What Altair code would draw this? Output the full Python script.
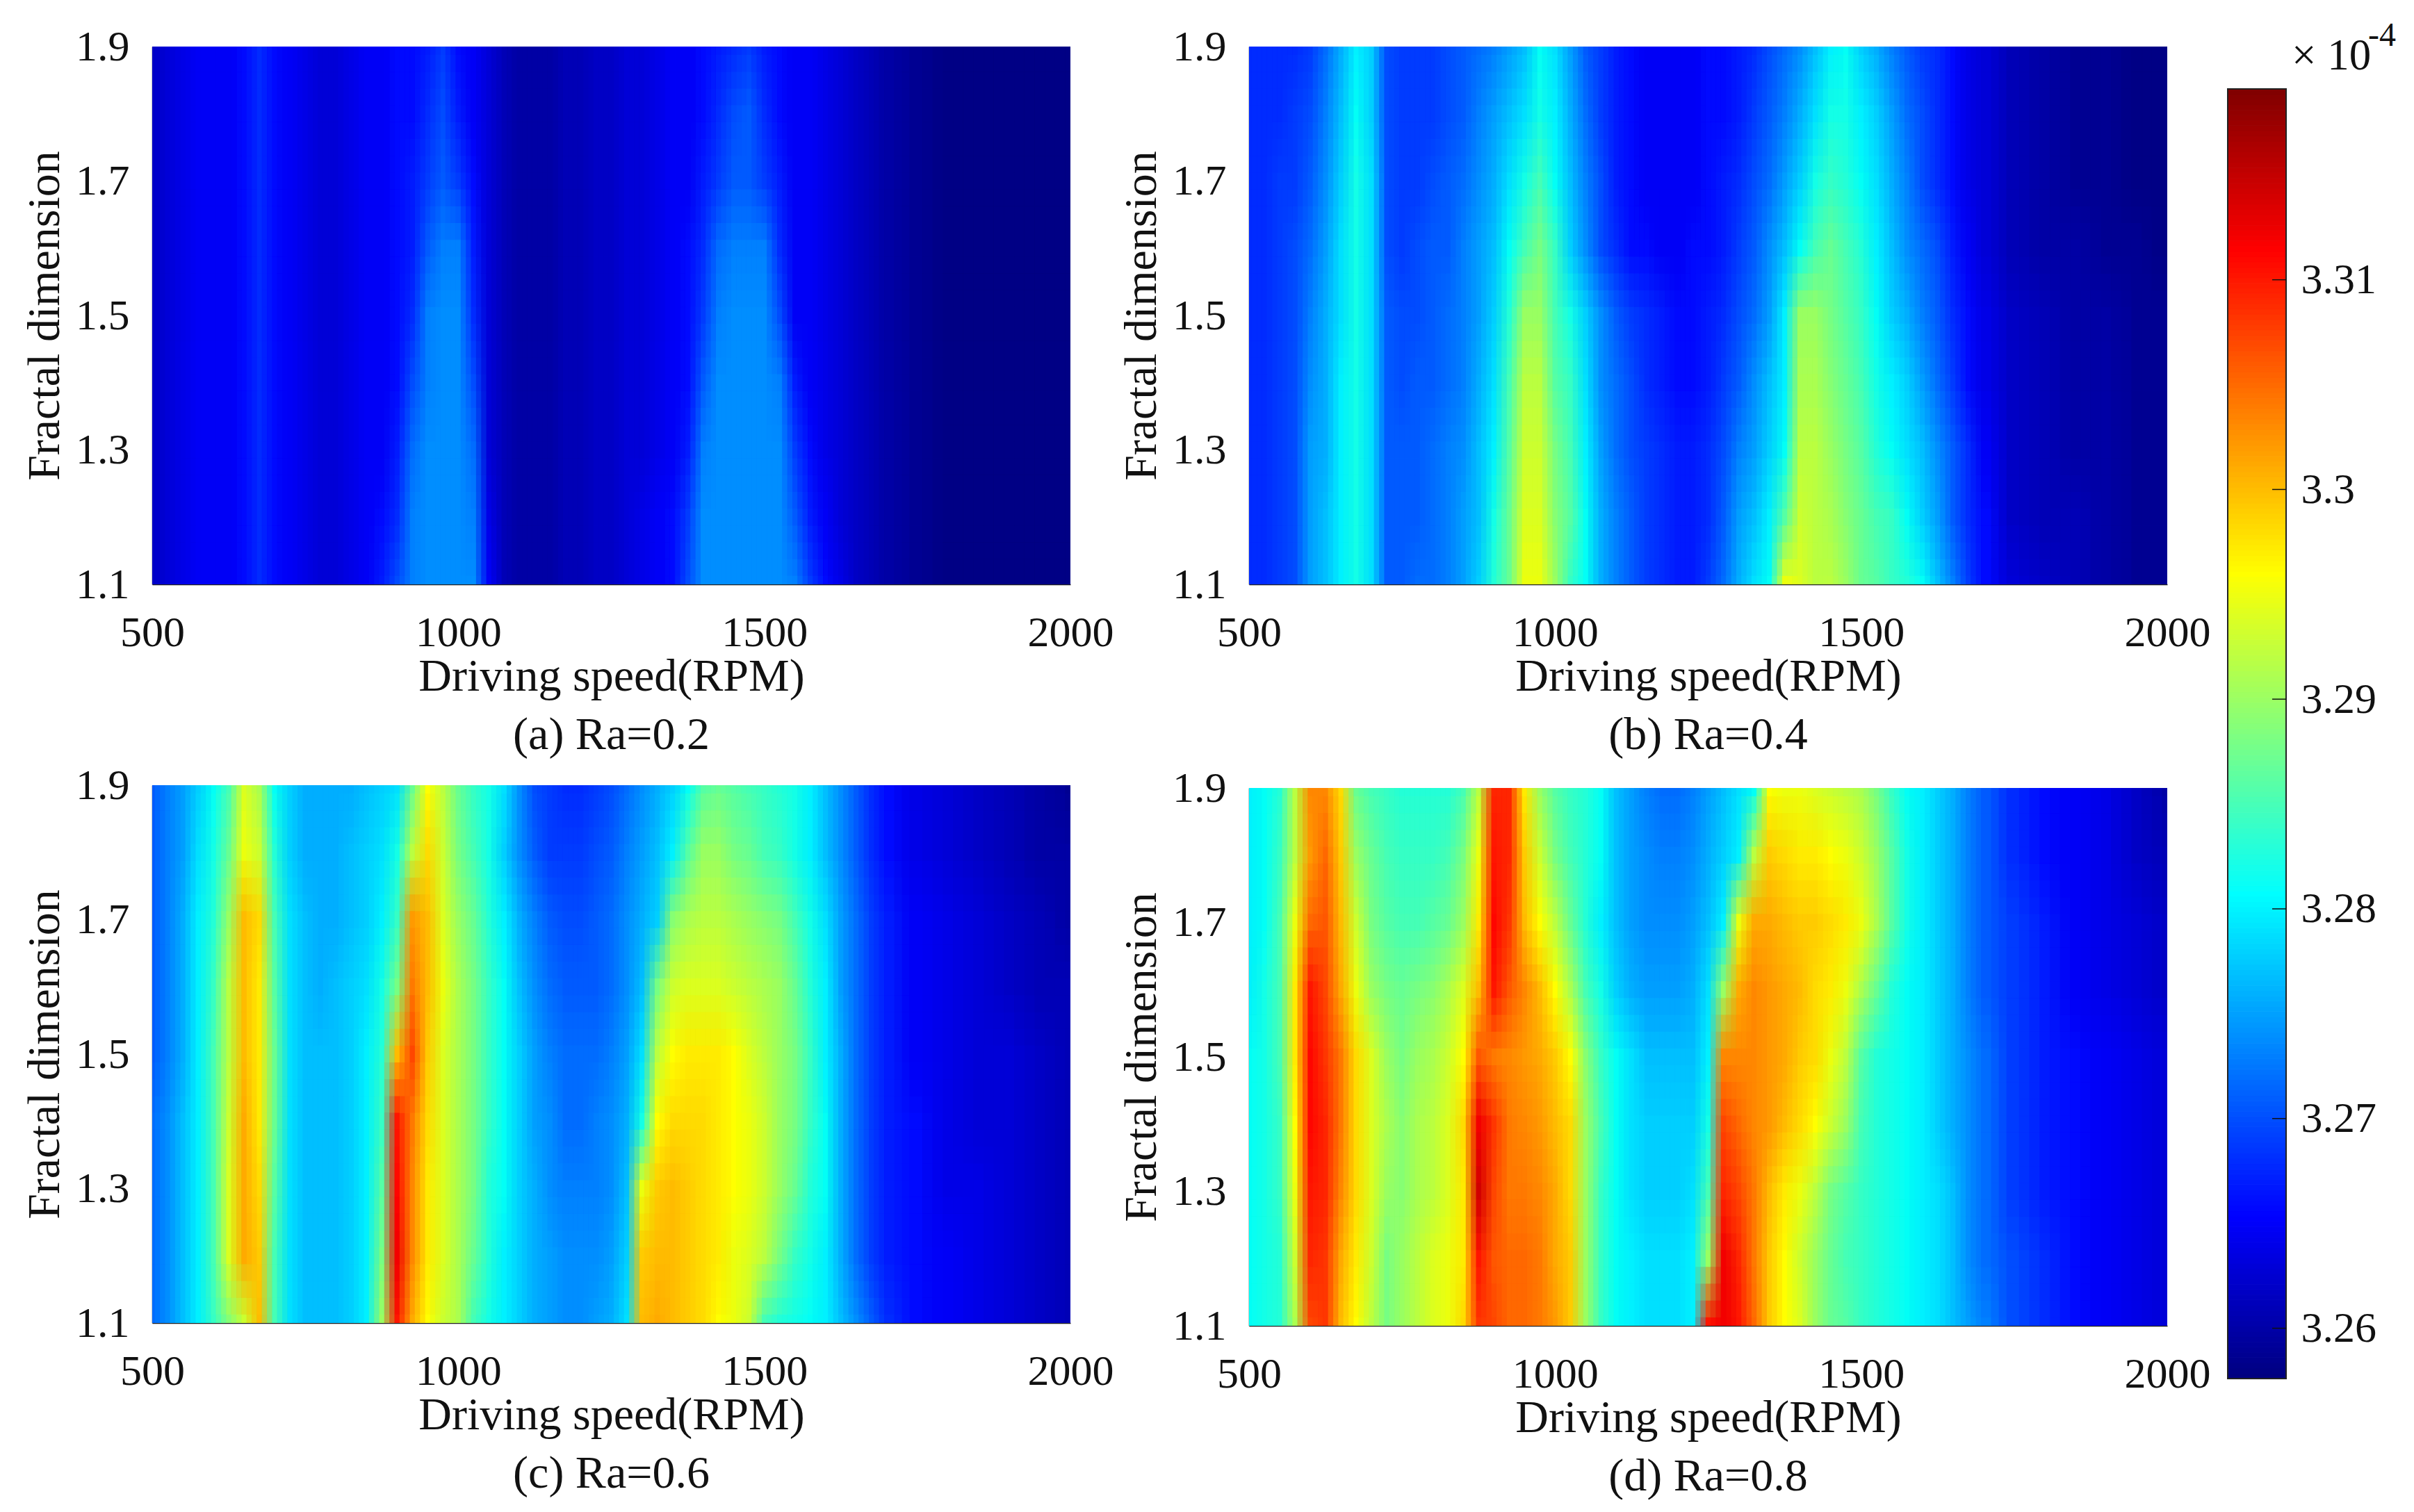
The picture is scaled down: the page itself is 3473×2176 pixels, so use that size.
import altair as alt
import numpy as np
import pandas as pd

speeds = [500,525,550,575,600,625,650,675,700,
          725,750,775,800,825,850,875,
          900,925,950,975,1000,1025,
          1050,1075,1100,1125,1150,1175,1200,1225,1250,1275,
          1300,1325,1350,1375,1400,1425,
          1450,1475,1500,1525,1550,1575,
          1600,1625,1650,1675,1700,
          1750,1800,1850,1900,1950,2000]
fractal = [1.9,1.8,1.7,1.6,1.5,1.4,1.3,1.2,1.1]

# values: thousandths above 3.2 (in units of 1e-4 on the colour bar)
ra_02 = [
 [62,63,64,65,65,65,66,68,66, 65,64,63,63,64,65,65, 66,66,67,69,66,65, 63,61,60,60,60,61,61,62,62,63, 63,64,65,65,66,67, 68,69,67,66,65,65, 64,63,62,61,60, 59,58,58,58,58,58],
 [62,63,64,65,65,65,66,68,66, 65,64,63,63,64,65,65, 66,66,68,70,67,65, 63,61,60,60,60,61,61,62,62,63, 63,64,65,65,66,68, 70,71,68,66,65,65, 64,63,62,61,60, 59,58,58,58,58,58],
 [62,63,64,65,65,65,66,68,66, 65,64,63,63,64,65,65, 66,67,69,71,69,66, 63,61,60,60,60,61,61,62,62,63, 63,64,65,65,67,69, 71,71,69,67,65,65, 64,63,62,61,60, 59,58,58,58,58,58],
 [62,63,64,65,65,65,66,68,66, 65,64,63,63,64,65,65, 66,67,71,73,73,67, 63,61,60,60,60,61,61,62,62,63, 63,64,65,66,68,72, 73,73,73,68,65,65, 64,63,62,61,60, 59,58,58,58,58,58],
 [62,63,64,65,65,65,66,68,66, 65,64,63,63,64,65,65, 66,68,73,74,74,68, 63,61,60,60,60,61,61,62,62,63, 63,64,65,66,69,73, 74,74,74,70,65,65, 64,63,62,61,60, 59,58,58,58,58,58],
 [62,63,64,65,65,65,66,68,66, 65,64,63,63,64,65,65, 66,70,73,74,74,70, 63,61,60,60,60,61,61,62,62,63, 63,64,65,66,71,74, 74,74,74,73,67,65, 64,63,62,61,60, 59,58,58,58,58,58],
 [62,63,64,65,65,65,66,68,66, 65,64,63,63,64,65,65, 67,72,74,74,74,72, 63,61,60,60,60,61,61,62,62,63, 63,64,65,67,73,74, 74,74,74,74,69,66, 64,63,62,61,60, 59,58,58,58,58,58],
 [62,63,64,65,65,65,66,68,66, 65,64,63,63,64,65,66, 68,73,74,74,74,73, 64,61,60,60,60,61,61,62,62,63, 64,65,66,69,74,74, 74,74,74,74,71,67, 65,63,62,61,60, 59,58,58,58,58,58],
 [62,63,64,65,65,65,66,68,66, 65,64,63,63,64,65,67, 70,73,74,74,74,74, 65,61,60,60,60,61,61,62,62,63, 64,65,66,70,74,74, 74,74,74,74,73,69, 66,64,62,61,60, 59,58,58,58,58,58],
]
ra_04 = [
 [68,68,68,68,69,72,76,80,78, 70,69,69,69,70,71,72, 73,75,77,81,79,75, 71,69,67,66,65,65,65,65,66,66, 67,68,70,72,74,77, 80,81,78,76,73,71, 69,68,66,64,63, 61,60,59,59,58,58],
 [68,68,68,69,70,73,77,81,78, 70,69,69,69,70,71,73, 75,77,79,82,80,76, 72,69,67,66,65,65,65,65,66,66, 67,69,71,73,76,79, 82,82,80,78,75,72, 70,68,66,64,63, 61,60,59,59,58,58],
 [68,68,69,69,71,74,78,82,79, 70,69,69,70,71,72,74, 76,79,82,85,81,77, 73,70,67,66,65,65,65,65,66,67, 68,70,72,75,78,82, 84,83,81,79,76,73, 70,68,66,64,63, 61,60,59,59,58,58],
 [68,68,69,70,72,75,79,82,79, 70,69,70,71,71,73,75, 77,81,85,88,84,78, 74,70,68,66,66,65,65,66,66,67, 69,71,74,77,81,85, 87,85,83,80,77,74, 72,70,67,65,63, 61,60,60,59,59,58],
 [68,68,69,70,73,76,79,82,79, 71,70,70,71,72,73,75, 78,83,90,90,85,82, 78,74,71,69,68,67,66,66,67,68, 70,72,75,80,90,90, 88,86,84,81,78,76, 73,71,68,66,64, 62,61,60,60,59,59],
 [68,68,69,70,74,76,80,82,79, 71,70,71,71,72,73,76, 79,85,92,92,86,84, 79,74,72,70,68,67,66,66,67,69, 71,74,77,80,91,91, 89,87,85,82,80,78, 75,72,69,66,64, 62,61,60,60,59,59],
 [68,68,69,70,75,76,80,82,79, 71,71,71,72,73,74,77, 80,86,93,93,88,85, 80,75,72,70,69,68,67,67,68,70, 73,75,78,81,92,92, 90,88,86,83,81,79, 77,74,71,68,65, 62,61,60,60,59,59],
 [68,68,69,70,75,77,80,82,79, 71,71,71,72,73,75,77, 82,87,94,94,89,86, 81,76,73,71,69,68,67,67,68,71, 75,77,80,86,93,92, 91,89,87,85,84,81, 78,75,71,68,66, 62,61,61,60,59,59],
 [68,68,69,70,75,77,80,82,79, 71,71,72,72,73,75,78, 83,87,95,95,90,84, 81,76,73,71,69,68,67,67,69,72, 76,79,81,95,94,92, 92,90,87,86,84,83, 81,77,73,69,66, 63,62,61,60,59,59],
]
ra_06 = [
 [71,73,75,78,81,85,94,91,81, 78,76,76,76,76,77,78, 79,87,96,92,87,84, 82,79,74,70,69,68,68,69,70,72, 74,76,78,81,86,87, 86,85,84,83,82,80, 77,74,71,68,66, 64,63,62,61,60,59],
 [71,73,75,79,82,87,95,93,83, 78,76,76,76,77,78,79, 82,92,98,93,88,85, 82,78,74,71,69,69,69,70,71,73, 75,77,80,86,90,90, 88,87,85,84,82,80, 77,74,71,68,66, 64,63,62,61,60,60],
 [71,73,76,80,83,90,100,98,85, 79,77,76,76,77,78,80, 84,102,100,94,90,87, 83,80,76,73,71,70,70,71,72,74, 76,78,89,91,92,92, 91,90,89,88,85,82, 79,75,72,69,67, 65,64,63,62,61,60],
 [71,73,76,80,84,92,100,97,86, 79,77,76,77,78,79,82, 88,104,100,95,91,88, 84,81,77,74,72,71,71,71,72,74, 77,88,93,94,94,94, 93,92,91,90,87,83, 80,75,72,69,67, 65,64,63,62,61,61],
 [71,73,76,80,85,92,100,97,87, 79,77,77,77,78,80,83, 100,107,99,94,91,88, 84,81,78,75,73,72,72,72,73,75, 79,92,96,97,97,97, 96,94,92,90,88,84, 80,76,72,69,67, 65,64,63,63,62,61],
 [72,74,77,80,85,93,101,97,87, 79,77,77,77,78,80,84, 110,104,98,94,91,88, 84,81,78,75,74,72,72,73,74,76, 82,96,98,98,98,97, 96,95,93,90,88,84, 81,76,72,69,67, 66,64,63,63,62,61],
 [72,74,77,80,85,94,101,98,86, 79,77,77,77,78,80,86, 111,103,97,94,91,88, 83,81,78,76,74,73,73,73,74,77, 95,99,100,99,98,97, 96,95,93,90,87,83, 81,76,72,69,67, 66,64,64,63,62,61],
 [72,74,77,80,85,94,101,99,85, 79,77,77,77,78,80,88, 112,103,97,94,91,87, 83,80,78,76,75,74,74,74,75,78, 99,100,100,99,98,97, 95,94,92,88,84,82, 80,76,72,69,67, 66,65,64,63,62,61],
 [72,74,77,80,84,89,93,100,85, 79,77,77,77,78,80,90, 110,101,96,93,91,85, 82,80,78,76,75,74,74,75,76,79, 100,101,100,99,98,96, 95,93,85,83,82,81, 80,77,74,71,68, 66,65,64,63,62,61],
]
ra_08 = [
 [80,81,83,92,103,103,98,87,85, 84,83,83,83,83,85,92, 109,109,97,90,86,84, 83,81,77,75,73,72,72,73,75,77, 79,81,96,95,95,94, 93,92,91,88,84,81, 80,78,76,73,71, 68,66,65,64,62,60],
 [80,81,84,92,102,105,99,90,87, 85,84,84,84,85,88,95, 110,109,99,93,88,85, 83,81,77,75,74,73,73,74,76,78, 80,92,99,98,97,97, 96,95,93,90,86,82, 80,78,76,73,71, 68,66,65,64,62,61],
 [80,81,85,95,105,106,100,93,88, 86,85,85,86,87,90,97, 111,108,100,96,92,87, 83,80,77,75,74,74,74,75,77,80, 95,101,101,100,99,99, 98,97,95,91,86,82, 80,78,76,73,71, 69,67,65,64,63,62],
 [80,82,85,97,110,107,101,95,90, 88,87,88,89,91,94,100, 110,106,103,100,96,91, 85,82,78,76,75,75,75,76,79,90, 101,103,102,101,100,98, 97,95,91,87,83,81, 80,78,76,73,71, 69,67,65,64,63,62],
 [81,82,85,97,111,108,104,98,94, 90,88,90,91,93,96,106, 104,103,102,101,99,96, 89,84,81,79,77,77,77,77,80,103, 103,103,102,101,99,98, 95,92,86,83,82,81, 80,78,76,74,72, 69,67,66,65,64,63],
 [81,82,84,96,111,109,104,98,94, 91,89,91,92,94,98,112, 108,104,103,102,100,98, 90,85,81,79,78,78,78,78,82,107, 105,103,102,100,98,96, 93,90,85,83,82,81, 80,78,76,74,72, 69,67,66,65,64,63],
 [81,82,84,95,110,109,103,98,94, 90,89,91,92,94,97,114, 107,104,104,103,101,98, 90,84,81,79,78,78,78,79,85,109, 107,104,100,97,95,92, 88,86,84,83,82,81, 80,79,77,74,72, 69,67,66,65,64,63],
 [81,82,83,93,109,108,101,97,93, 88,90,92,94,95,97,110, 106,105,105,104,101,99, 90,84,81,80,79,79,79,80,90,112, 109,104,99,96,93,90, 87,85,84,83,82,81, 80,79,77,74,72, 70,68,66,65,64,63],
 [81,82,83,91,107,108,100,96,92, 88,90,92,94,95,98,108, 107,105,105,104,102,99, 90,84,81,80,79,79,79,80,110,112, 110,105,99,96,94,90, 87,86,84,83,82,81, 80,79,77,75,73, 70,68,66,65,64,63],
]

x_ticks = [500,1000,1500,2000]
y_ticks = [1.1,1.3,1.5,1.7,1.9]
colorbar_ticks = [3.26,3.27,3.28,3.29,3.30,3.31]
jet_domain = [3.2576,3.2653,3.2807,3.2960,3.3114,3.3191]
jet_colors = ["#00007f","#0000ff","#00ffff","#ffff00","#ff0000","#7f0000"]
FONT = "Liberation Serif"
TEXT = "#111111"

color_scale = alt.Scale(domain=jet_domain, range=jet_colors, interpolate="rgb", clamp=True)

def edges(keys, pos, lo, hi):
    pairs = sorted(zip(pos, keys))
    p = [a for a, _ in pairs]
    k = [b for _, b in pairs]
    mids = [(a+b)/2 for a, b in zip(p[:-1], p[1:])]
    return dict(zip(k, zip([lo]+mids, mids+[hi])))

# The same cells are drawn several times, each copy slid a fraction of a cell and
# more transparent than the last, so the steps between cells soften as in the shaded reference.
x_slides = [-1/3, 0, 1/3]
y_slides = [-0.0375, -0.0125, 0.0125, 0.0375]

xaxis = alt.Axis(values=x_ticks, format="d", title="Driving speed(RPM)", grid=False, ticks=False,
                 labelPadding=39, titlePadding=0, labelFlush=False, labelOverlap=False)
yaxis = alt.Axis(values=y_ticks, format=".1f", title="Fractal dimension", grid=False, ticks=False,
                 labelPadding=33, titlePadding=10, labelFlush=False, labelOverlap=False)

def panel(grid, caption):
    layers = []
    k = 0
    for ds in y_slides:
        for fs in x_slides:
            xe = edges(speeds, [s + fs*(25 if s <= 1700 else 50) for s in speeds], 400, 2100)
            ye = edges(fractal, [f + ds for f in fractal], 1.0, 2.0)
            recs = []
            for f, row in zip(fractal, grid):
                for s, v in zip(speeds, row):
                    recs.append(dict(x0=round(xe[s][0],2), x1=round(xe[s][1],2),
                                     y0=round(ye[f][0],4), y1=round(ye[f][1],4), v=round(3.2+v/1000,4)))
            df = pd.DataFrame(recs)
            enc = dict(
                x=alt.X("x0:Q", scale=alt.Scale(domain=[500,2000], nice=False), axis=xaxis),
                x2="x1:Q",
                y=alt.Y("y0:Q", scale=alt.Scale(domain=[1.1,1.9], nice=False), axis=yaxis),
                y2="y1:Q",
                fill=alt.Fill("v:Q", scale=color_scale, legend=None),
            )
            if k == 0:
                enc["stroke"] = alt.Stroke("v:Q", scale=color_scale, legend=None)
                mark = alt.Chart(df).mark_rect(strokeWidth=1, clip=True)
            else:
                mark = alt.Chart(df).mark_rect(clip=True, opacity=1/(k+1))
            layers.append(mark.encode(**enc))
            k += 1
    return alt.layer(*layers).properties(
        width=1321, height=774,
        title=alt.TitleParams(caption, orient="bottom", font=FONT, fontSize=66, fontWeight="normal",
                              color=TEXT, offset=20, anchor="middle"))

a = panel(ra_02, "(a) Ra=0.2")
b = panel(ra_04, "(b) Ra=0.4")
c = panel(ra_06, "(c) Ra=0.6")
d = panel(ra_08, "(d) Ra=0.8")

BAR_LOW, BAR_HIGH = 3.2576, 3.3191
BAR_PX, BAR_DROP = 1856, 61
bar_top_domain = BAR_LOW + (BAR_HIGH-BAR_LOW)*(BAR_PX+BAR_DROP)/BAR_PX
levels = np.arange(BAR_LOW, BAR_HIGH-0.0001, 0.00025)
bar_df = pd.DataFrame({"y0": levels, "y1": levels+0.00025, "v": levels+0.000125})
bar_y = alt.Scale(domain=[BAR_LOW, bar_top_domain], nice=False)
bar_axis = alt.Axis(values=colorbar_ticks, format="~g", orient="right", title=None, grid=False, ticks=False, domain=False,
                    labelPadding=21, labelFlush=False, labelOverlap=False)
bar = alt.Chart(bar_df).mark_rect(strokeWidth=1).encode(
    x=alt.value(0), x2=alt.value(84),
    y=alt.Y("y0:Q", scale=bar_y, axis=bar_axis),
    y2="y1:Q",
    fill=alt.Fill("v:Q", scale=color_scale, legend=None),
    stroke=alt.Stroke("v:Q", scale=color_scale, legend=None),
)
frame = alt.Chart(pd.DataFrame({"y0":[BAR_LOW],"y1":[BAR_HIGH]})).mark_rect(fillOpacity=0, stroke="#222222", strokeWidth=2).encode(
    x=alt.value(0), x2=alt.value(84), y=alt.Y("y0:Q", scale=bar_y, axis=bar_axis), y2="y1:Q")
ticks = alt.Chart(pd.DataFrame({"y":colorbar_ticks})).mark_rule(color="#111111", strokeWidth=1.5).encode(
    x=alt.value(64), x2=alt.value(84), y=alt.Y("y:Q", scale=bar_y, axis=bar_axis))
times = alt.Chart(pd.DataFrame({"t":["× 10"]})).mark_text(font=FONT, fontSize=63, align="left", baseline="alphabetic", color=TEXT).encode(
    text="t:N", x=alt.value(92), y=alt.value(33))
exp = alt.Chart(pd.DataFrame({"t":["-4"]})).mark_text(font=FONT, fontSize=48, align="left", baseline="alphabetic", color=TEXT).encode(
    text="t:N", x=alt.value(202), y=alt.value(-1))
cbar = alt.layer(bar, frame, ticks, times, exp).properties(width=84, height=BAR_PX+BAR_DROP)

left = alt.vconcat(a, c, spacing=8)
right = alt.vconcat(b, d, spacing=12)
chart = alt.hconcat(alt.hconcat(left, right, spacing=7), cbar, spacing=24).properties(
    padding={"left": 23, "top": 20, "right": 0, "bottom": 0}
).configure_axis(
    labelFont=FONT, titleFont=FONT, labelFontSize=62, titleFontSize=66,
    labelColor=TEXT, titleColor=TEXT, titleFontWeight="normal",
    domainColor="#222222", domainWidth=1.5,
).configure_view(stroke=None)

chart.save("out.html", embed_options={"renderer": "svg", "actions": False})
